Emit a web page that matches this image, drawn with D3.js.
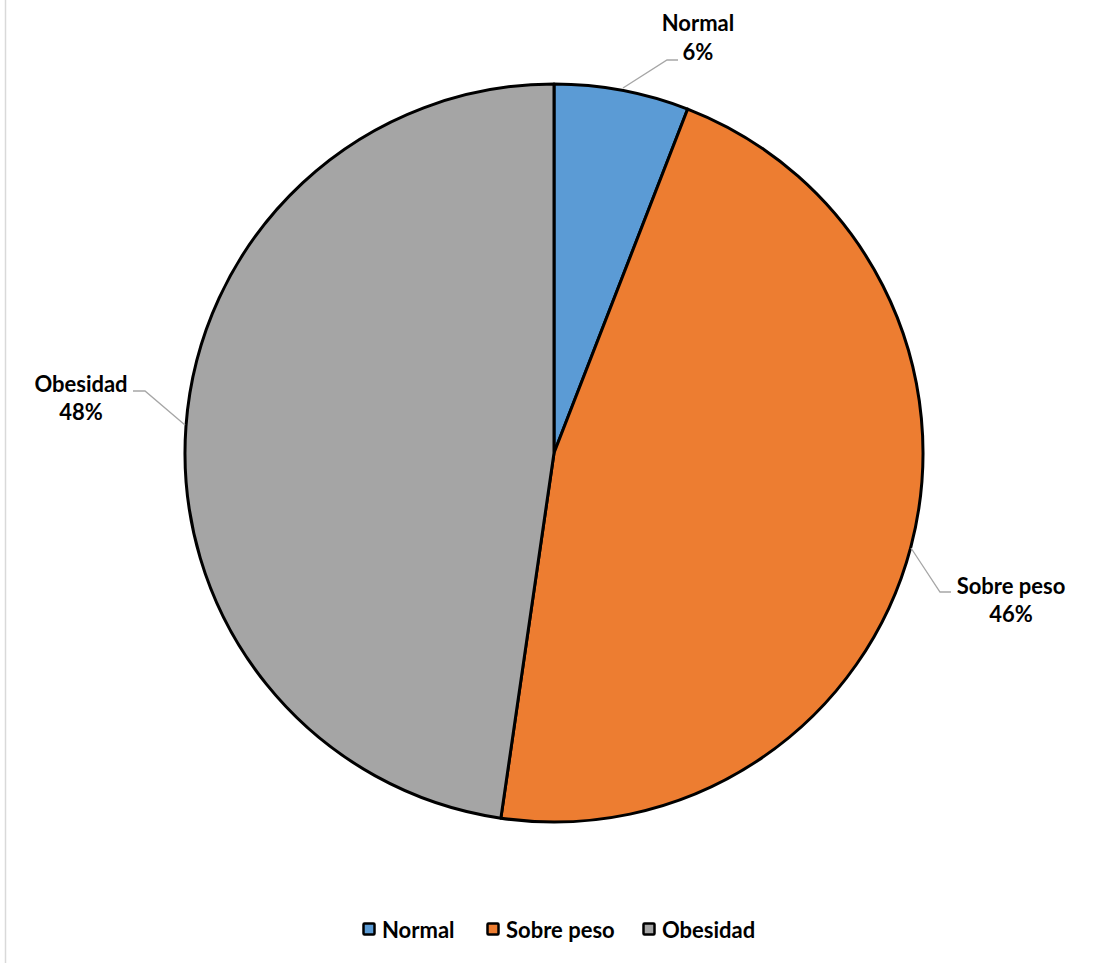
<!DOCTYPE html>
<html><head><meta charset="utf-8">
<script src="https://cdn.jsdelivr.net/npm/d3@7"></script>
<style>body{margin:0;background:#fff}svg{display:block}text{font-family:Lato,"Open Sans",sans-serif;font-weight:bold;fill:#000}</style>
</head><body>
<svg id="c" width="1096" height="963"></svg>
<script>
const categories = ["Normal", "Sobre peso", "Obesidad"];
const values = [5.9, 46.4, 47.7];
const percentLabels = ["6%", "46%", "48%"];
const colors = ["#5B9BD5", "#ED7D31", "#A5A5A5"];

const svg = d3.select("#c");
const cx = 554, cy = 453, r = 369;
svg.append("line").attr("x1",5.5).attr("x2",5.5).attr("y1",0).attr("y2",963).attr("stroke","#d9d9d9").attr("stroke-width",1.5);

const pie = d3.pie().sort(null).value(d=>d)(values);
const arc = d3.arc().innerRadius(0).outerRadius(r);
const g = svg.append("g").attr("transform",`translate(${cx},${cy})`);
g.selectAll("path").data(pie).join("path").attr("d",arc)
  .attr("fill",(d,i)=>colors[i]).attr("stroke","#000").attr("stroke-width",3).attr("stroke-linejoin","round");

const fs = 22;
const labelSpec = [
  {pts:[[623,88],[667,60],[678,60]], x:698, y1:31, y2:60},
  {pts:[[911,548],[940,592],[951,592]], x:1011, y1:594, y2:622},
  {pts:[[185,425],[145,391],[133,391]], x:81, y1:392, y2:420}
];
labelSpec.forEach((s,i)=>{
  svg.append("polyline").attr("points",s.pts.map(p=>p.join(",")).join(" "))
    .attr("fill","none").attr("stroke","#a6a6a6").attr("stroke-width",1.3);
  svg.append("text").attr("x",s.x).attr("y",s.y1).attr("text-anchor","middle").attr("font-size",fs).text(categories[i]);
  svg.append("text").attr("x",s.x).attr("y",s.y2).attr("text-anchor","middle").attr("font-size",fs).text(percentLabels[i]);
});

const legX = [362, 486, 642];
const lg = svg.append("g");
categories.forEach((c,i)=>{
  lg.append("rect").attr("x",legX[i]+1.5).attr("y",923.5).attr("width",11).attr("height",11)
    .attr("fill",colors[i]).attr("stroke","#000").attr("stroke-width",2.5).attr("rx",1);
  lg.append("text").attr("x",legX[i]+20).attr("y",938).attr("font-size",fs).text(c);
});
</script>
</body></html>
